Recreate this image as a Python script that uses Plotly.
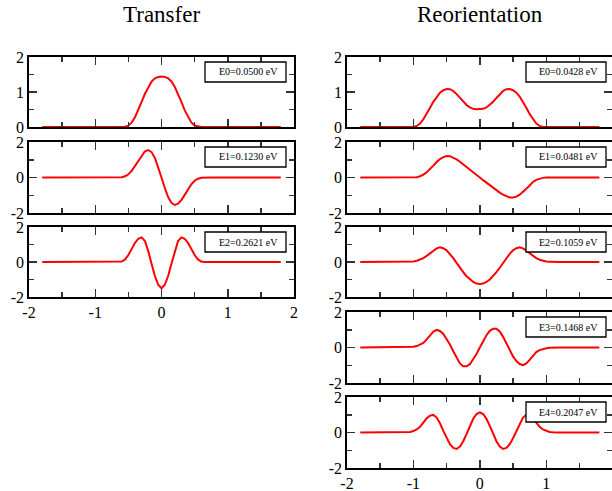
import plotly.graph_objects as go

# ---------------- data ----------------
X = [-1.8, -1.2, -1.15, -1.1, -1.05, -1.0, -0.95, -0.9, -0.85, -0.8, -0.75, -0.7, -0.65,
     -0.6, -0.55, -0.5, -0.45, -0.4, -0.35, -0.3, -0.25, -0.2, -0.15, -0.1, -0.05, 0.0,
     0.05, 0.1, 0.15, 0.2, 0.25, 0.3, 0.35, 0.4, 0.45, 0.5, 0.55, 0.6, 0.65, 0.7, 0.75,
     0.8, 0.85, 0.9, 0.95, 1.0, 1.05, 1.1, 1.15, 1.2, 1.8]

transfer_e0 = [0, 0, 0, 0, 0, 0, 0, 0, 0, 0, 0, 0, 0,
               0, 0.01, 0.04, 0.13, 0.28, 0.48, 0.72, 0.95, 1.15, 1.30, 1.39, 1.43, 1.44,
               1.43, 1.39, 1.30, 1.15, 0.95, 0.72, 0.48, 0.28, 0.13, 0.04, 0.01, 0, 0, 0, 0,
               0, 0, 0, 0, 0, 0, 0, 0, 0, 0]
transfer_e1 = [0, 0, 0, 0, 0, 0, 0, 0, 0, 0, 0, 0, 0,
               0.02, 0.07, 0.18, 0.38, 0.66, 0.98, 1.27, 1.48, 1.55, 1.43, 1.10, 0.59, 0.0,
               -0.59, -1.10, -1.43, -1.55, -1.48, -1.27, -0.98, -0.66, -0.38, -0.18, -0.07, -0.02, 0, 0, 0,
               0, 0, 0, 0, 0, 0, 0, 0, 0, 0]
transfer_e2 = [0, 0, 0, 0, 0, 0, 0, 0, 0, 0, 0, 0, 0,
               0.03, 0.15, 0.40, 0.75, 1.10, 1.33, 1.41, 1.20, 0.62, -0.10, -0.80, -1.30, -1.50,
               -1.30, -0.80, -0.10, 0.62, 1.20, 1.41, 1.33, 1.10, 0.75, 0.40, 0.15, 0.03, 0, 0, 0,
               0, 0, 0, 0, 0, 0, 0, 0, 0, 0]

reor_e0 = [0, 0, 0, 0, 0, 0, 0.03, 0.10, 0.22, 0.37, 0.55, 0.72, 0.87,
           0.98, 1.05, 1.085, 1.08, 1.03, 0.94, 0.83, 0.72, 0.63, 0.56, 0.52, 0.51, 0.51,
           0.52, 0.56, 0.63, 0.72, 0.83, 0.94, 1.03, 1.08, 1.085, 1.05, 0.98, 0.87, 0.72, 0.55,
           0.37, 0.22, 0.10, 0.03, 0, 0, 0, 0, 0, 0, 0]
reor_e1 = [0, 0, 0, 0, 0, 0, 0.02, 0.07, 0.16, 0.30, 0.47, 0.67, 0.87,
           1.04, 1.15, 1.21, 1.20, 1.13, 1.02, 0.89, 0.75, 0.61, 0.46, 0.31, 0.16, 0.0,
           -0.15, -0.30, -0.44, -0.58, -0.72, -0.85, -0.97, -1.07, -1.13, -1.13, -1.08, -0.97, -0.82, -0.63,
           -0.45, -0.25, -0.13, -0.06, -0.02, 0, 0, 0, 0, 0, 0]
reor_e2 = [0, 0, 0, 0.01, 0.02, 0.03, 0.07, 0.13, 0.22, 0.35, 0.50, 0.65, 0.78,
           0.84, 0.79, 0.67, 0.47, 0.22, -0.05, -0.33, -0.58, -0.81, -1.00, -1.14, -1.23, -1.26,
           -1.23, -1.14, -1.00, -0.81, -0.58, -0.33, -0.05, 0.22, 0.47, 0.67, 0.79, 0.84, 0.78, 0.65,
           0.50, 0.35, 0.22, 0.13, 0.07, 0.03, 0.02, 0.01, 0, 0, 0]
reor_e3 = [0, 0, 0, 0.01, 0.02, 0.04, 0.08, 0.15, 0.26, 0.46, 0.70, 0.90, 0.99,
           0.93, 0.76, 0.50, 0.17, -0.21, -0.60, -0.90, -1.06, -1.06, -0.94, -0.69, -0.37, 0.0,
           0.37, 0.69, 0.94, 1.06, 1.06, 0.90, 0.60, 0.21, -0.17, -0.50, -0.76, -0.93, -0.99, -0.90,
           -0.70, -0.46, -0.26, -0.15, -0.08, -0.04, -0.02, -0.01, 0, 0, 0]
reor_e4 = [0, 0, 0, 0.01, 0.03, 0.08, 0.17, 0.32, 0.55, 0.80, 0.95, 0.99, 0.84,
           0.52, 0.09, -0.32, -0.66, -0.87, -0.93, -0.79, -0.49, -0.09, 0.37, 0.77, 1.04, 1.14,
           1.04, 0.77, 0.37, -0.09, -0.49, -0.79, -0.93, -0.87, -0.66, -0.32, 0.09, 0.52, 0.84, 0.99,
           0.95, 0.80, 0.55, 0.32, 0.17, 0.08, 0.03, 0.01, 0, 0, 0]

transfer_labels = ["E0=0.0500 eV", "E1=0.1230 eV", "E2=0.2621 eV"]
reor_labels = ["E0=0.0428 eV", "E1=0.0481 eV", "E2=0.1059 eV", "E3=0.1468 eV", "E4=0.2047 eV"]
titles = ["Transfer", "Reorientation"]

x_tick_vals = [-2, -1, 0, 1, 2]
x_tick_text = ["-2", "-1", "0", "1", "2"]
x_minor_vals = [-1.5, -0.5, 0.5, 1.5]
y_top_vals = [0, 1, 2]
y_top_text = ["0", "1", "2"]
y_top_minor = [0.5, 1.5]
y_vals = [-2, 0, 2]
y_text = ["-2", "0", "2"]
y_minor = [-1, 1]

# ---------------- layout helpers ----------------
W, H = 612, 491
FONT = "Liberation Serif, Times New Roman, serif"
row_px = [(57, 127), (142, 213), (227, 297), (312, 383), (397, 468)]
col_px = [(29, 294), (347, 612)]

panels = []
for i, (y, lab) in enumerate(zip([transfer_e0, transfer_e1, transfer_e2], transfer_labels)):
    panels.append((0, i, y, lab, i == 2))
for i, (y, lab) in enumerate(zip([reor_e0, reor_e1, reor_e2, reor_e3, reor_e4], reor_labels)):
    panels.append((1, i, y, lab, i == 4))

fig = go.Figure()
layout = {}
shapes = []
annotations = []

for k, (col, row, yv, lab, bottom) in enumerate(panels, start=1):
    sfx = "" if k == 1 else str(k)
    xa, ya = "x" + sfx, "y" + sfx
    fig.add_trace(go.Scatter(x=X, y=yv, mode="lines", xaxis=xa, yaxis=ya,
                             line=dict(color="#ff0000", width=2), showlegend=False,
                             hoverinfo="skip"))
    x0p, x1p = col_px[col]
    t, b = row_px[row]
    xr = [-2, 2] if col == 0 else [-2, 2 - 0.01]
    common = dict(showline=True, linecolor="#000", linewidth=1.8, mirror="ticks",
                  ticks="inside", tickcolor="#333", tickwidth=1.5, ticklen=8,
                  showgrid=False, zeroline=False, automargin=False,
                  tickfont=dict(family=FONT, size=16, color="#000"))
    layout["xaxis" + sfx] = dict(
        domain=[x0p / W, min(x1p / W, 1.0)], range=xr, anchor=ya,
        tickmode="array", tickvals=x_tick_vals, ticktext=x_tick_text,
        showticklabels=bottom,
        minor=dict(tickmode="array", tickvals=x_minor_vals, ticks="inside",
                   ticklen=5, tickwidth=1.5, tickcolor="#333"),
        **common)
    is_top = row == 0
    layout["yaxis" + sfx] = dict(
        domain=[1 - b / H, 1 - t / H], range=[0, 2] if is_top else [-2, 2], anchor=xa,
        tickmode="array", tickvals=y_top_vals if is_top else y_vals,
        ticktext=y_top_text if is_top else y_text,
        minor=dict(tickmode="array", tickvals=y_top_minor if is_top else y_minor,
                   ticks="inside", ticklen=5, tickwidth=1.5, tickcolor="#333"),
        **common)
    # legend-like label box
    pw = x1p - x0p
    ph = b - t
    if col == 0:
        bx0, bx1 = (205 - x0p) / pw, (286 - x0p) / pw
        tx = (279.5 - x0p) / pw
    else:
        bx0, bx1 = (526 - x0p) / pw, (606 - x0p) / pw
        tx = (599.5 - x0p) / pw
    shapes.append(dict(type="rect", xref=xa + " domain", yref=ya + " domain",
                       x0=bx0, x1=bx1, y0=1 - 25 / ph, y1=1 - 5 / ph,
                       line=dict(color="#000", width=1.3), fillcolor="white", layer="above"))
    annotations.append(dict(text=lab, xref=xa + " domain", yref=ya + " domain",
                            x=tx, y=1 - 15 / ph, xanchor="right", yanchor="middle",
                            showarrow=False, font=dict(family=FONT, size=10, color="#000")))

annotations.append(dict(text=titles[0], xref="paper", yref="paper", x=161.7 / W, y=1 - 14 / H,
                        xanchor="center", yanchor="middle", showarrow=False,
                        font=dict(family=FONT, size=23, color="#000")))
annotations.append(dict(text=titles[1], xref="paper", yref="paper", x=480 / W, y=1 - 14 / H,
                        xanchor="center", yanchor="middle", showarrow=False,
                        font=dict(family=FONT, size=23, color="#000")))

fig.update_layout(width=W, height=H, autosize=False,
                  margin=dict(l=0, r=0, t=0, b=0, pad=0),
                  paper_bgcolor="white", plot_bgcolor="white",
                  hovermode=False,
                  shapes=shapes, annotations=annotations, **layout)

fig.write_html("out.html",
               config={"displayModeBar": False, "staticPlot": True},
               post_script="document.body.style.margin='0';document.body.style.overflow='hidden';")
